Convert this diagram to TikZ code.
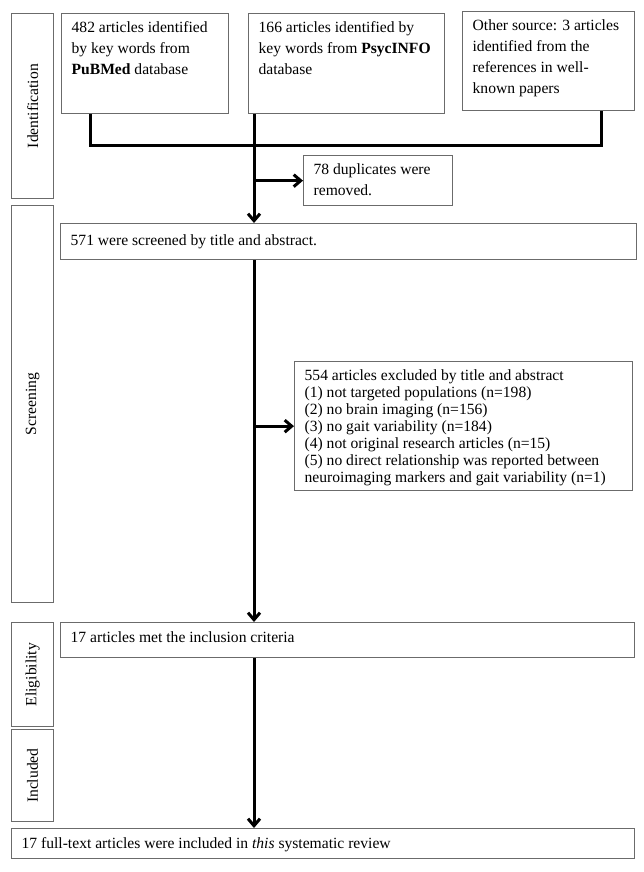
\documentclass[tikz,border=0pt]{standalone}
\usepackage{fontspec}
\setmainfont{Liberation Serif}
\usetikzlibrary{arrows.meta,calc}
\newcommand{\tbox}[5][21]{\parbox[c][#3pt][t]{#2pt}{\fontsize{15.6}{#1}\selectfont\leftskip=10pt\rightskip=0pt plus 1fil\parindent=0pt\rule{0pt}{#4pt}#5}}
\begin{document}
\begin{tikzpicture}[x=1pt,y=-1pt,
  box/.style={draw=black!58,line width=1.3pt,anchor=north west,inner sep=0pt},
  sidebox/.style={draw=black!58,line width=1.3pt,anchor=north west,inner sep=0pt,font=\fontsize{15.6}{18}\selectfont},
  conn/.style={line width=3pt,black},
  arr/.style={conn,-{Straight Barb[length=7pt,width=12pt]}}]
\useasboundingbox[fill=white] (0,0) rectangle (644,872);
% side labels
\node[sidebox,minimum width=42pt,minimum height=185pt] (sid) at (11,13) {\rotatebox{90}{Identification}};
\node[sidebox,minimum width=42pt,minimum height=397pt] (sscr) at (11,205) {\rotatebox{90}{Screening}};
\node[sidebox,minimum width=42pt,minimum height=104pt] (selig) at (11,622) {\rotatebox{90}{Eligibility}};
\node[sidebox,minimum width=42pt,minimum height=92pt] (sincl) at (11,729) {\rotatebox{90}{Included}};
% boxes
\node[box] (b1) at (61,13) {\tbox{167}{100}{19}{482 articles identified\\by key words from\\\textbf{PuBMed} database}};
\node[box] (b2) at (248,13) {\tbox{196}{100}{19}{166 articles identified by\\key words from \textbf{PsycINFO}\\database}};
\node[box] (b3) at (462,11) {\tbox{172}{99}{19}{Other source: 3 articles\\identified from the\\references in well-\\known papers}};
\node[box] (dup) at (303,155) {\tbox{149}{50}{19}{78 duplicates were\\removed.}};
\node[box] (scr) at (60,223) {\tbox{576}{36}{22}{571 were screened by title and abstract.}};
\node[box] (excl) at (294,361) {\tbox[17]{338}{129}{19}{554 articles excluded by title and abstract\\(1) not targeted populations (n=198)\\(2) no brain imaging (n=156)\\(3) no gait variability (n=184)\\(4) not original research articles (n=15)\\(5) no direct relationship was reported between\\neuroimaging markers and gait variability (n=1)}};
\node[box] (elig) at (60,622) {\tbox{574}{35}{19.5}{17 articles met the inclusion criteria}};
\node[box] (fin) at (11,828) {\tbox{623}{30}{20}{17 full-text articles were included in \textit{this} systematic review}};
% connectors
\coordinate (p1) at ($(b1.south west)+(29,0)$);
\coordinate (p2) at ($(b2.south west)+(6,0)$);
\coordinate (p3) at ($(b3.south west)+(139,0)$);
\draw[conn] (p1) -- ++(0,31) -| (p3);
\draw[arr] (p2) -- (p2 |- scr.north);
\draw[arr] (p2 |- dup.west) -- (dup.west);
\draw[arr] (p2 |- scr.south) -- (p2 |- elig.north);
\draw[arr] (p2 |- excl.west) -- (excl.west);
\draw[arr] (p2 |- elig.south) -- (p2 |- fin.north);
\end{tikzpicture}
\end{document}
